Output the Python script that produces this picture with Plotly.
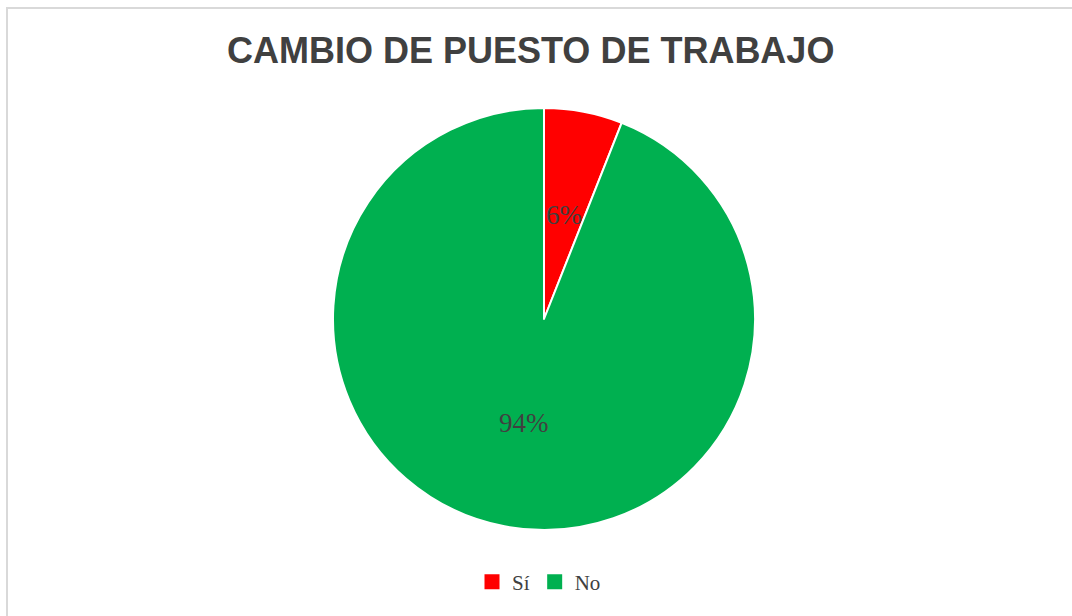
import math
import plotly.graph_objects as go

labels = ["Sí", "No"]
values = [6, 94]
colors = ["#FF0000", "#00B050"]
title_text = "CAMBIO DE PUESTO DE TRABAJO"

W, H = 1072, 616
cx, cy, R = 544, 319, 211
dom_x = [(cx - R) / W, (cx + R) / W]
dom_y = [1 - (cy + R) / H, 1 - (cy - R) / H]

# bisector angles for labels (clockwise from 12 o'clock), labels at half radius
total = sum(values)
label_ann, acc = [], 0.0
for v in values:
    ang = math.radians((acc + v / 2) / total * 360)
    acc += v
    px = cx + 0.5 * R * math.sin(ang)
    py = cy - 0.5 * R * math.cos(ang)
    label_ann.append(dict(
        text=f"{round(v / total * 100)}%", x=px / W, y=1 - py / H,
        xref="paper", yref="paper", xanchor="center", yanchor="middle", showarrow=False,
        font=dict(family="Liberation Serif", size=27, color="#404040"),
    ))

fig = go.Figure()
fig.add_trace(go.Pie(
    labels=labels, values=values, sort=False, direction="clockwise", rotation=0,
    marker=dict(colors=colors, line=dict(color="white", width=2)),
    textinfo="none", hoverinfo="label+percent",
    domain=dict(x=dom_x, y=dom_y), showlegend=False,
))
# legend entries with square markers
for lab, col in zip(labels, colors):
    fig.add_trace(go.Scatter(
        x=[None], y=[None], mode="markers", name=lab,
        marker=dict(symbol="square", size=15, color=col),
        showlegend=True,
    ))

fig.update_layout(
    width=W, height=H,
    margin=dict(l=0, r=0, t=0, b=0),
    paper_bgcolor="white", plot_bgcolor="rgba(0,0,0,0)",
    xaxis=dict(visible=False), yaxis=dict(visible=False),
    legend=dict(
        orientation="h", x=539 / W, xanchor="center", y=1 - 582 / H, yanchor="middle",
        font=dict(family="Liberation Serif", size=21, color="#404040"),
        itemwidth=30, traceorder="normal",
    ),
    annotations=[dict(
        text=f"<b>{title_text}</b>", x=530 / W, y=1 - 51 / H, xref="paper", yref="paper",
        xanchor="center", yanchor="middle", showarrow=False,
        font=dict(family="Liberation Sans", size=36, color="#404040"),
    )] + label_ann,
    shapes=[dict(
        type="rect", xref="paper", yref="paper",
        x0=7 / W, x1=1.02, y0=-0.02, y1=1 - 8 / H,
        line=dict(color="#D9D9D9", width=2), fillcolor="rgba(0,0,0,0)", layer="below",
    )],
)

fig.write_html("out.html")
